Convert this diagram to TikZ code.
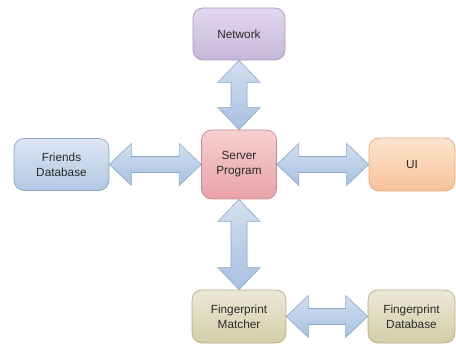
\documentclass[tikz,border=0pt]{standalone}
\usepackage{fontspec}
\setmainfont{Liberation Sans}
\usepackage{tikz}
\usetikzlibrary{calc}
\usepackage{xcolor}
\definecolor{netTop}{HTML}{E2D8EC}
\definecolor{netBot}{HTML}{C6B6DA}
\definecolor{netLine}{HTML}{A898C2}
\definecolor{srvTop}{HTML}{F6D0D0}
\definecolor{srvBot}{HTML}{E8A2A8}
\definecolor{srvLine}{HTML}{C98A92}
\definecolor{frTop}{HTML}{DCE6F2}
\definecolor{frBot}{HTML}{B2C8E2}
\definecolor{frLine}{HTML}{8CA6C6}
\definecolor{uiTop}{HTML}{FDE4CE}
\definecolor{uiBot}{HTML}{F8C29A}
\definecolor{uiLine}{HTML}{D8AA88}
\definecolor{fpTop}{HTML}{ECE8D6}
\definecolor{fpBot}{HTML}{D4CCA8}
\definecolor{fpLine}{HTML}{B6AE8E}
\definecolor{arTop}{HTML}{D2E0F0}
\definecolor{arBot}{HTML}{A8C0E0}
\definecolor{arLine}{HTML}{8CA4C6}
\definecolor{txt}{HTML}{2A2A2A}
\tikzset{
  module/.style   = {draw, line width=0.7pt, rounded corners=10pt, inner sep=0pt,
                     align=center, text=txt, font=\fontsize{11.8}{15}\selectfont},
  netbox/.style   = {module, draw=netLine, top color=netTop, bottom color=netBot},
  srvbox/.style   = {module, draw=srvLine, top color=srvTop, bottom color=srvBot},
  frbox/.style    = {module, draw=frLine, top color=frTop, bottom color=frBot},
  uibox/.style    = {module, draw=uiLine, top color=uiTop, bottom color=uiBot},
  fpbox/.style    = {module, draw=fpLine, top color=fpTop, bottom color=fpBot},
  fatarrow/.style = {draw=arLine, line width=0.6pt, top color=arTop, bottom color=arBot,
                     line join=miter},
}
% double block arrow between two points: tip -> tip
\newcommand{\hl}{22pt}
\newcommand{\hw}{21pt}
\newcommand{\sw}{8pt}
\newcommand{\dblarrow}[2]{%
  \path[fatarrow] (#1)
    -- ($($(#1)!\hl!(#2)$)!\hw!90:(#2)$)
    -- ($($(#1)!\hl!(#2)$)!\sw!90:(#2)$)
    -- ($($(#2)!\hl!(#1)$)!\sw!-90:(#1)$)
    -- ($($(#2)!\hl!(#1)$)!\hw!-90:(#1)$)
    -- (#2)
    -- ($($(#2)!\hl!(#1)$)!\hw!90:(#1)$)
    -- ($($(#2)!\hl!(#1)$)!\sw!90:(#1)$)
    -- ($($(#1)!\hl!(#2)$)!\sw!-90:(#2)$)
    -- ($($(#1)!\hl!(#2)$)!\hw!-90:(#2)$)
    -- cycle;}

\begin{document}
\begin{tikzpicture}[x=1pt, y=-1pt]
\useasboundingbox (0,0) rectangle (456,345);
% ---------------- modules ----------------
\node[netbox, minimum width=92pt, minimum height=52pt] (net) at (239,34) {Network};
\node[srvbox, minimum width=75pt, minimum height=69pt] (srv) at (239,164.5) {Server\\Program};
\node[frbox, minimum width=95pt, minimum height=52pt] (friends) at (61.5,164.5) {Friends\\Database};
\node[uibox, minimum width=86pt, minimum height=53pt] (ui) at (412,164.5) {UI};
\node[fpbox, minimum width=94pt, minimum height=53pt] (match) at (239,316.5) {Fingerprint\\Matcher};
\node[fpbox, minimum width=87pt, minimum height=53pt] (fpdb) at (411.5,316.5) {Fingerprint\\Database};
% ---------------- links ----------------
\dblarrow{net.south}{srv.north}
\dblarrow{friends.east}{srv.west}
\dblarrow{srv.east}{ui.west}
\dblarrow{srv.south}{match.north}
\dblarrow{match.east}{fpdb.west}
\end{tikzpicture}
\end{document}
